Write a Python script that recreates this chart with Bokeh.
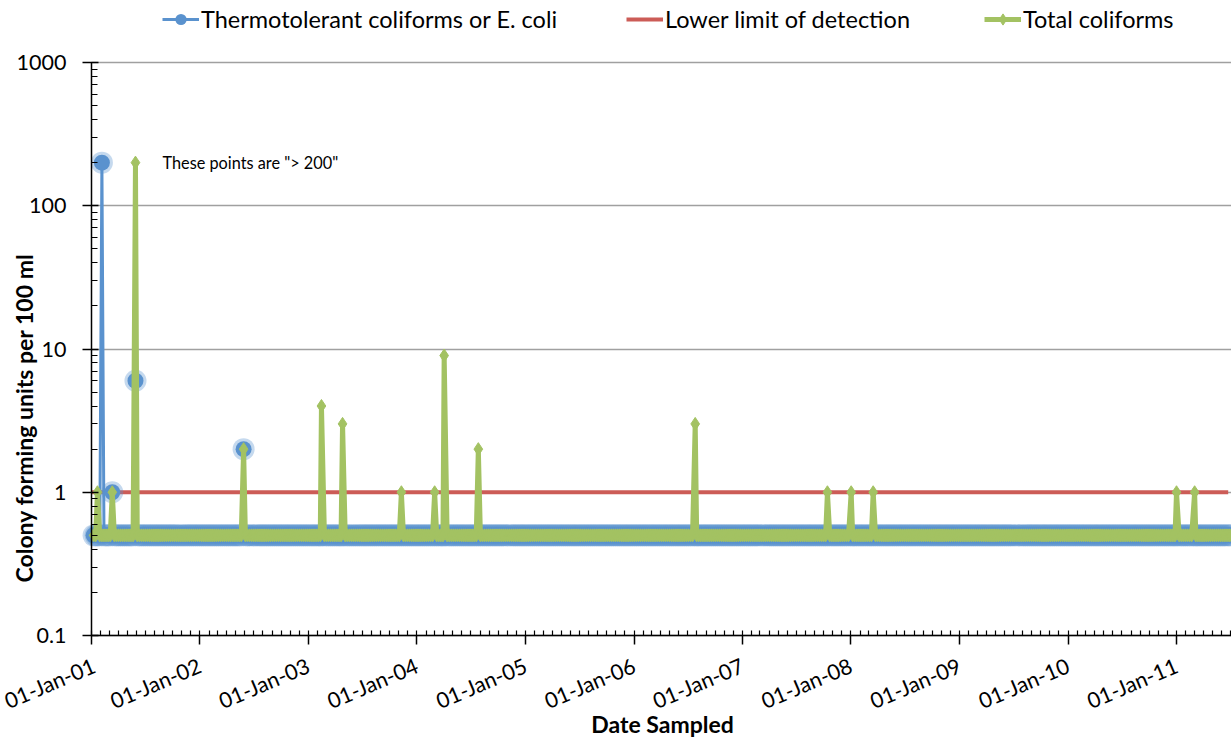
import math
import pandas as pd
from bokeh.plotting import figure
from bokeh.models import (FixedTicker, Legend, LegendItem, Label, Range1d,
                          ColumnDataSource)
from bokeh.embed import file_html
from bokeh.resources import INLINE

# ---------------- data ----------------
# routine sampling schedule; non-detects are plotted as 0.5 (half the detection limit)
SAMPLE_START = "2001-01-08"
SAMPLE_END = "2011-07-10"
SAMPLE_EVERY_DAYS = 7
NON_DETECT = 0.5

ecoli_dates = ["2001-02-05", "2001-03-12", "2001-05-29", "2002-05-28"]
ecoli_values = [200, 1, 6, 2]

total_dates = ["2001-01-21", "2001-03-12", "2001-05-29", "2002-05-28", "2003-02-14",
               "2003-04-26", "2003-11-10", "2004-03-01", "2004-04-02", "2004-07-26",
               "2006-07-26", "2007-10-14", "2008-01-02", "2008-03-16", "2011-01-01",
               "2011-03-03"]
total_values = [1, 1, 200, 2, 4, 3, 1, 1, 9, 2, 3, 1, 1, 1, 1, 1]

lld_dates = ["2001-01-01", "2011-06-24"]
lld_values = [1, 1]

year_ticks = ["2001-01-01", "2002-01-01", "2003-01-01", "2004-01-01", "2005-01-01",
              "2006-01-01", "2007-01-01", "2008-01-01", "2009-01-01", "2010-01-01",
              "2011-01-01"]
year_labels = ["01-Jan-01", "01-Jan-02", "01-Jan-03", "01-Jan-04", "01-Jan-05",
               "01-Jan-06", "01-Jan-07", "01-Jan-08", "01-Jan-09", "01-Jan-10",
               "01-Jan-11"]
y_ticks = [0.1, 1, 10, 100, 1000]
y_labels = ["0.1", "1", "10", "100", "1000"]

x_title = "Date Sampled"
y_title = "Colony forming units per 100 ml"
note_text = 'These points are "> 200"'
note_date = "2001-08-28"
note_value = 200

# ---------------- build series ----------------
spike_dates = sorted(set(pd.to_datetime(ecoli_dates)) | set(pd.to_datetime(total_dates)))
base = pd.date_range(SAMPLE_START, SAMPLE_END, freq=f"{SAMPLE_EVERY_DAYS}D")
keep = [d for d in base if all(abs((d - s).days) > 3 for s in spike_dates)]
all_dates = sorted(set(keep) | set(spike_dates))

e_map = dict(zip(pd.to_datetime(ecoli_dates), ecoli_values))
t_map = dict(zip(pd.to_datetime(total_dates), total_values))
src = ColumnDataSource(dict(
    x=all_dates,
    ecoli=[e_map.get(d, NON_DETECT) for d in all_dates],
    total=[t_map.get(d, NON_DETECT) for d in all_dates],
))
lld_src = ColumnDataSource(dict(x=pd.to_datetime(lld_dates), y=lld_values))

def ms(s):
    return pd.Timestamp(s).value / 1e6

# ---------------- layout constants (pixels) ----------------
# The frame covers the whole canvas; axes are pinned at fixed data locations
W, H = 1231, 740
AXIS_X = 91                     # y axis (01-Jan-01)
AXIS_Y = 635                    # x axis (0.1)
PX_PER_DECADE = 143.25          # 0.1 .. 1000 spans 573 px
PX_PER_DAY = 0.2971
DAY_MS = 86400000
x0 = ms("2001-01-01")
x_start = x0 - AXIS_X / PX_PER_DAY * DAY_MS
x_end = x0 + (W - AXIS_X) / PX_PER_DAY * DAY_MS
y_bottom = 10 ** (-1 - (H - AXIS_Y) / PX_PER_DECADE)
y_top = 10 ** (-1 + AXIS_Y / PX_PER_DECADE)

BLUE = "#5A92CE"
RED = "#CC5C57"
GREEN = "#A3C262"
FONT = "Lato"

p = figure(
    x_axis_type="datetime", y_axis_type="log",
    x_range=Range1d(x_start, x_end),
    y_range=Range1d(y_bottom, y_top),
    width=W, height=H,
    min_border_left=0, min_border_right=0, min_border_top=0, min_border_bottom=0,
    output_backend="svg", toolbar_location=None,
)
p.outline_line_color = None
p.background_fill_color = "white"

# ---------------- axes ----------------
minor_months = [ms(d) for d in pd.date_range("2001-01-01", "2011-07-01", freq="MS")]
p.xaxis.ticker = FixedTicker(ticks=[ms(d) for d in year_ticks], minor_ticks=minor_months)
p.xaxis.major_label_overrides = {ms(d): l for d, l in zip(year_ticks, year_labels)}
p.xaxis.bounds = (x0, x_end)
p.xaxis.fixed_location = 0.1
p.xaxis.major_label_orientation = 0.40
p.xaxis.major_tick_out = 9
p.xaxis.major_tick_in = 0
p.xaxis.minor_tick_out = 0
p.xaxis.minor_tick_in = 5
p.xaxis.major_label_standoff = 20

minor_log = [m * 10.0 ** e for e in range(-1, 3) for m in range(2, 10)]
p.yaxis.ticker = FixedTicker(ticks=y_ticks, minor_ticks=minor_log)
p.yaxis.major_label_overrides = {t: l for t, l in zip(y_ticks, y_labels)}
p.yaxis.bounds = (0.1, 1000)
p.yaxis.fixed_location = x0
p.yaxis.major_tick_out = 9
p.yaxis.major_tick_in = 7
p.yaxis.minor_tick_out = 0
p.yaxis.minor_tick_in = 6
p.yaxis.major_label_standoff = 16

for ax in (p.xaxis, p.yaxis):
    ax.axis_line_color = "black"
    ax.axis_line_width = 1.5
    ax.major_tick_line_color = "black"
    ax.major_tick_line_width = 1.5
    ax.minor_tick_line_color = "black"
    ax.minor_tick_line_width = 1.2
    ax.major_label_text_font = FONT
    ax.major_label_text_font_size = "21.5px"
    ax.major_label_text_color = "black"

p.xgrid.grid_line_color = None
p.ygrid.grid_line_color = "#A0A0A0"
p.ygrid.grid_line_width = 1.5
p.ygrid.cross_bounds = (x0, x_end)

# axis titles (screen units, measured from the canvas bottom-left)
p.add_layout(Label(x=662, y=H - 723, x_units="screen", y_units="screen", text=x_title,
                   text_font=FONT, text_font_size="23px", text_font_style="bold",
                   text_align="center", text_baseline="middle", text_color="black"))
p.add_layout(Label(x=23, y=H - 582, x_units="screen", y_units="screen", text=y_title,
                   angle=math.pi / 2, text_font=FONT, text_font_size="23px",
                   text_font_style="bold", text_align="left", text_baseline="middle",
                   text_color="black"))

# ---------------- glyphs ----------------
red_r = p.line("x", "y", source=lld_src, line_color=RED, line_width=4)
blue_line = p.line("x", "ecoli", source=src, line_color=BLUE, line_width=3)
p.scatter("x", "ecoli", source=src, size=22, fill_color=BLUE, fill_alpha=0.35,
          line_color=None)
blue_dot = p.scatter("x", "ecoli", source=src, size=16, fill_color=BLUE,
                     line_color=None)
green_line = p.line("x", "total", source=src, line_color=GREEN, line_width=5)
green_dot = p.scatter("x", "total", source=src, marker="diamond", size=13,
                      fill_color=GREEN, line_color=GREEN)

p.add_layout(Label(x=ms(note_date), y=note_value, text=note_text, text_font=FONT,
                   text_font_size="16.3px", text_baseline="middle", text_color="black"))

# ---------------- legend ----------------
items = [
    ("Thermotolerant coliforms or E. coli", [blue_line, blue_dot], 162),
    ("Lower limit of detection", [red_r], 626),
    ("Total coliforms", [green_line, green_dot], 984),
]
for label, rends, xpix in items:
    lg = Legend(items=[LegendItem(label=label, renderers=rends)],
                location=(xpix, H - 33),
                orientation="horizontal", glyph_width=37, glyph_height=28,
                label_standoff=2, padding=0, margin=0, spacing=0,
                border_line_color=None, background_fill_alpha=0,
                label_text_font=FONT, label_text_font_size="23.5px",
                label_text_color="black")
    p.add_layout(lg, "center")

open("out.html", "w").write(file_html(p, INLINE))
